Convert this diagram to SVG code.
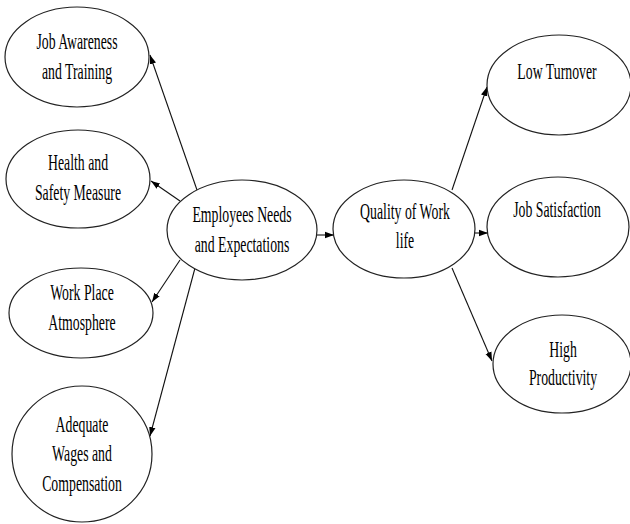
<svg xmlns="http://www.w3.org/2000/svg" width="630" height="524" viewBox="0 0 630 524">
<defs>
<marker id="ah" markerUnits="userSpaceOnUse" markerWidth="10" markerHeight="8" refX="9" refY="4" orient="auto">
<path d="M0,0.8 L9,4 L0,7.2 Z" fill="#000"/>
</marker>
<style>
.node ellipse{fill:#fff;stroke:#222;stroke-width:1.2}
.node text{font-family:"Liberation Serif","Times New Roman",serif;font-size:23px;fill:#000;text-anchor:middle}
#edges line{stroke:#111;stroke-width:1.1;marker-end:url(#ah)}
</style>
</defs>
<rect width="630" height="524" fill="#fff"/>
<g id="edges">
<line x1="197" y1="190" x2="150" y2="55"/>
<line x1="180" y1="201" x2="151" y2="181"/>
<line x1="180" y1="260" x2="152" y2="302"/>
<line x1="195" y1="268" x2="150" y2="436"/>
<line x1="317" y1="235" x2="334" y2="235"/>
<line x1="452" y1="190" x2="487" y2="87"/>
<line x1="475" y1="233" x2="488" y2="233"/>
<line x1="452" y1="268" x2="492" y2="361"/>
</g>
<g id="n-job-awareness" class="node">
<ellipse cx="77" cy="57" rx="72" ry="50"/>
<text transform="translate(77 0) scale(0.6 1)"><tspan x="0" y="49">Job Awareness</tspan><tspan x="0" y="79">and Training</tspan></text>
</g>
<g id="n-health" class="node">
<ellipse cx="78" cy="179" rx="72" ry="49"/>
<text transform="translate(78 0) scale(0.6 1)"><tspan x="0" y="170">Health and</tspan><tspan x="0" y="200">Safety Measure</tspan></text>
</g>
<g id="n-workplace" class="node">
<ellipse cx="81" cy="313" rx="72" ry="45"/>
<text transform="translate(82 0) scale(0.6 1)"><tspan x="0" y="300">Work Place</tspan><tspan x="0" y="330">Atmosphere</tspan></text>
</g>
<g id="n-wages" class="node">
<ellipse cx="82" cy="454" rx="70" ry="68"/>
<text transform="translate(82 0) scale(0.6 1)"><tspan x="0" y="432">Adequate</tspan><tspan x="0" y="461">Wages and</tspan><tspan x="0" y="491">Compensation</tspan></text>
</g>
<g id="n-employees" class="node">
<ellipse cx="242" cy="230" rx="75" ry="50"/>
<text transform="translate(242 0) scale(0.6 1)"><tspan x="0" y="222">Employees Needs</tspan><tspan x="0" y="252">and Expectations</tspan></text>
</g>
<g id="n-qwl" class="node">
<ellipse cx="404" cy="229" rx="71" ry="49"/>
<text transform="translate(405 0) scale(0.6 1)"><tspan x="0" y="219">Quality of Work</tspan><tspan x="0" y="248">life</tspan></text>
</g>
<g id="n-turnover" class="node">
<ellipse cx="559" cy="85" rx="72" ry="50"/>
<text transform="translate(557 0) scale(0.6 1)"><tspan x="0" y="79">Low Turnover</tspan></text>
</g>
<g id="n-satisfaction" class="node">
<ellipse cx="558" cy="227" rx="71" ry="50"/>
<text transform="translate(557 0) scale(0.6 1)"><tspan x="0" y="217">Job Satisfaction</tspan></text>
</g>
<g id="n-productivity" class="node">
<ellipse cx="562" cy="364" rx="69" ry="49"/>
<text transform="translate(563 0) scale(0.6 1)"><tspan x="0" y="357">High</tspan><tspan x="0" y="385">Productivity</tspan></text>
</g>
</svg>
